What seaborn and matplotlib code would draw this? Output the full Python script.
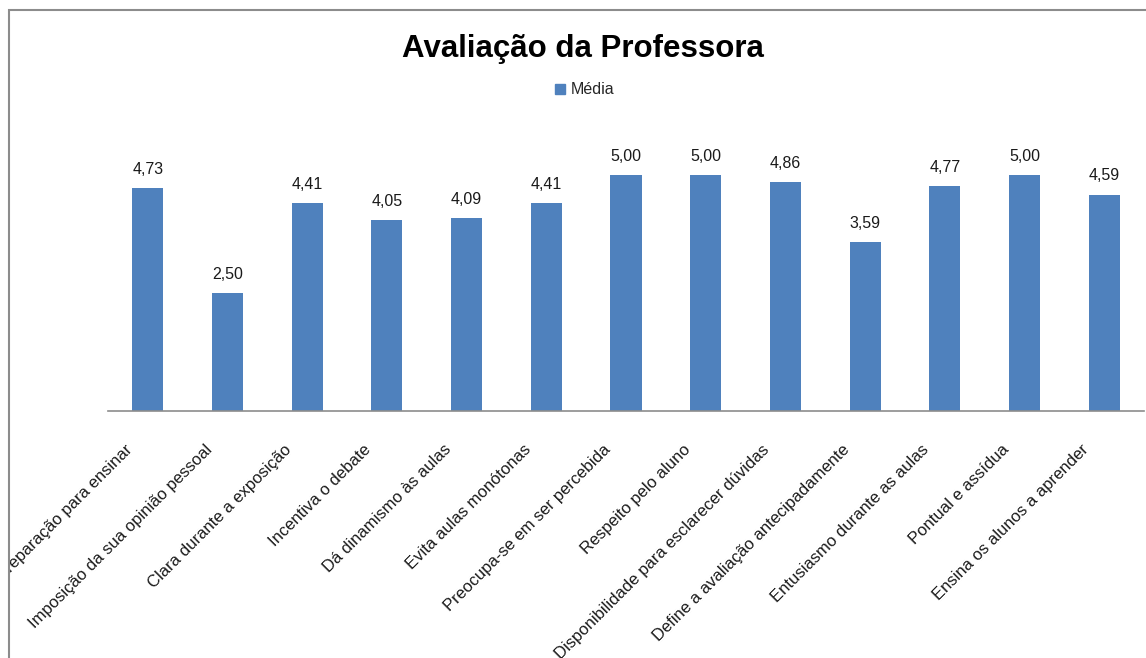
import matplotlib
matplotlib.use("Agg")
import matplotlib.pyplot as plt
import matplotlib.patches as mpatches
from matplotlib.transforms import ScaledTranslation
import seaborn as sns
import pandas as pd

categories = [
    "Preparação para ensinar",
    "Imposição da sua opinião pessoal",
    "Clara durante a exposição",
    "Incentiva o debate",
    "Dá dinamismo às aulas",
    "Evita aulas monótonas",
    "Preocupa-se em ser percebida",
    "Respeito pelo aluno",
    "Disponibilidade para esclarecer dúvidas",
    "Define a avaliação antecipadamente",
    "Entusiasmo durante as aulas",
    "Pontual e assídua",
    "Ensina os alunos a aprender",
]
media = [4.73, 2.50, 4.41, 4.05, 4.09, 4.41, 5.00, 5.00, 4.86, 3.59, 4.77, 5.00, 4.59]
series_name = "Média"
title = "Avaliação da Professora"

BAR_COLOR = "#4F81BD"
FONT = ["Liberation Sans", "DejaVu Sans"]

sns.set_style("white")
plt.rcParams["font.family"] = FONT

W, H = 1146, 658
fig = plt.figure(figsize=(W / 100, H / 100), dpi=100)

# chart-area border (runs off the right and bottom edges)
frame = mpatches.Rectangle((8.5 / W, -0.1), 1.2, 1 - 10.5 / H + 0.1,
                           transform=fig.transFigure, fill=False,
                           edgecolor="#8c8c8c", linewidth=1.5)
fig.patches.append(frame)
inner = mpatches.Rectangle((9.5 / W, -0.1), 1.2, 1.1,
                           transform=fig.transFigure, fill=False, visible=False)

ax = fig.add_axes([108 / W, 1 - 411 / H, (1144 - 108) / W, (411 - 128) / H])

df = pd.DataFrame({"categoria": categories, "media": media})
sns.barplot(data=df, x="categoria", y="media", color=BAR_COLOR, width=0.39,
            saturation=1, ax=ax, edgecolor="none")

ax.set_ylim(0, 6)
ax.set_xlim(-0.5, len(categories) - 0.5)
ax.set_yticks([])
ax.set_xlabel("")
ax.set_ylabel("")
for s in ["top", "right", "left"]:
    ax.spines[s].set_visible(False)
ax.spines["bottom"].set_color("#8c8c8c")
ax.spines["bottom"].set_linewidth(1.2)

# value labels with comma decimals
labels = [f"{v:.2f}".replace(".", ",") for v in media]
ax.bar_label(ax.containers[0], labels=labels, padding=8, fontsize=11.5,
             color="#1a1a1a", family=FONT)

# rotated category labels, clipped to the chart frame
ax.set_xticks(range(len(categories)))
ax.set_xticklabels([])
ax.tick_params(axis="x", length=0)
off = ScaledTranslation(-18 / 100, -36 / 100, fig.dpi_scale_trans)
for i, c in enumerate(categories):
    t = ax.text(i, 0, c, transform=ax.get_xaxis_transform() + off, rotation=45,
                rotation_mode="anchor", ha="right", va="center", fontsize=12,
                color="#1a1a1a", family=FONT)
    t.set_clip_on(True)
    t.set_clip_path(inner)

fig.text(583 / W, 1 - 57 / H, title, ha="center", va="baseline", fontsize=22.5,
         fontweight="bold", color="black", family=FONT)

handle = mpatches.Patch(color=BAR_COLOR, label=series_name)
fig.legend(handles=[handle], loc="center", bbox_to_anchor=(585 / W, 1 - 90 / H),
           frameon=False, handlelength=0.6, handleheight=0.6,
           handletextpad=0.4, prop={"family": FONT, "size": 11.5})

fig.savefig("out.png", dpi=100)
